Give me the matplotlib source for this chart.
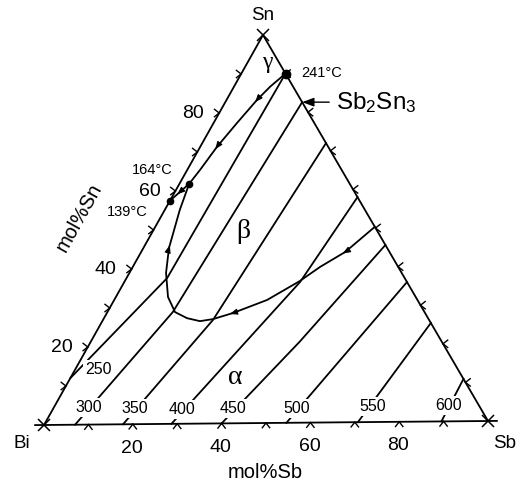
import numpy as np
import matplotlib.pyplot as plt

plt.rcParams['font.family'] = ['Liberation Sans', 'DejaVu Sans']
plt.rcParams['mathtext.fontset'] = 'custom'
plt.rcParams['mathtext.rm'] = 'Liberation Sans'
plt.rcParams['mathtext.default'] = 'regular'

# compositions in mol% (Sb, Sn); Bi is the rest
tick_values = [10, 20, 30, 40, 50, 60, 70, 80, 90]
tick_labels = [20, 40, 60, 80]

# liquidus isotherms, from the Bi-side edge to the Sn-Sb edge
iso_temps = [250, 300, 350, 400, 450, 500, 550, 600]
iso_sb = [[0.0, 9.2, 10.0], [7.0, 14.8, 17.4], [17.8, 24.9, 28.0],
          [28.7, 39.8, 42.0], [40.0, 47.3, 54.4], [54.6, 64.0],
          [70.7, 74.6], [89.5, 89.1]]
iso_sn = [[12.0, 37.6, 90.0], [0.0, 28.8, 82.6], [0.0, 26.7, 72.0],
          [0.0, 36.3, 58.0], [0.0, 20.9, 45.6], [0.0, 36.0],
          [0.0, 25.4], [0.0, 10.9]]

# univariant lines
upper_sb = [10.0, 8.2, 6.9, 5.3, 3.8, 2.9, 2.2]
upper_sn = [90.0, 86.7, 83.3, 77.4, 71.3, 65.4, 61.8]
lower_sb = [49.7, 46.2, 42.4, 39.6, 34.6, 28.5, 24.8, 22.1, 18.8, 15.3,
            11.8, 8.3, 5.8, 3.4, 2.2]
lower_sn = [50.3, 43.9, 40.1, 36.5, 31.7, 28.4, 26.9, 26.4, 27.2, 28.8,
            32.7, 38.9, 45.3, 55.1, 61.8]
eut_sb = [2.2, 0.0]
eut_sn = [61.8, 57.5]

# invariant points
pt_names = ['241°C', '164°C', '139°C']
pt_sb = [10.0, 2.2, 0.0]
pt_sn = [90.0, 61.8, 57.5]
sb2sn3 = (17.4, 82.6)

phase_names = ['γ', 'β', 'α']
phase_sb = [4.5, 20.5, 37.3]
phase_sn = [92.8, 49.3, 11.7]

# triangle corners in the canvas (pixels)
BI = np.array([44.0, 425.0])
SB = np.array([488.0, 421.0])
SN = np.array([263.0, 35.0])


def tern(sb, sn):
    sb = np.asarray(sb, dtype=float) / 100
    sn = np.asarray(sn, dtype=float) / 100
    x = BI[0] + sb * (SB[0] - BI[0]) + sn * (SN[0] - BI[0])
    y = BI[1] + sb * (SB[1] - BI[1]) + sn * (SN[1] - BI[1])
    return x, y


fig = plt.figure(figsize=(5.29, 4.84), dpi=100)
ax = fig.add_axes([0, 0, 1, 1])
ax.set_xlim(0, 529)
ax.set_ylim(484, 0)
ax.axis('off')

lw = 1.3

# triangle, bottom edge runs a little past the corners
ex, ey = tern([-2, 102], [0, 0])
ax.plot(ex, ey, color='k', lw=lw)
ex, ey = tern([100, 0, 0], [0, 100, 0])
ax.plot(ex, ey, color='k', lw=lw)
cx, cy = tern([0, 100, 0], [0, 0, 100])
ax.plot(cx, cy, 'x', color='k', ms=8, mew=1.1)


def arrowhead_tick(x, y, ang, size=6, spread=38):
    # small open arrowhead pointing into the triangle (ang in degrees, canvas coords)
    for s in (-spread, spread):
        a = np.radians(ang + 180 + s)
        ax.plot([x, x + size * np.cos(a)], [y, y + size * np.sin(a)],
                color='k', lw=1.0)


for t in tick_values:
    x, y = tern(t, 0)
    arrowhead_tick(x, y, -90)
    x, y = tern(0, t)
    arrowhead_tick(x, y, 0)
    x, y = tern(t, 100 - t)
    arrowhead_tick(x, y, 180)

for t in tick_labels:
    ax.annotate(str(t), tern(t, 0), xytext=(-1, -24), textcoords='offset pixels',
                ha='center', va='center', fontsize=14)
    ax.annotate(str(t), tern(0, t), xytext=(-26, 0), textcoords='offset pixels',
                ha='center', va='center', fontsize=14)

ax.annotate('Bi', tern(0, 0), xytext=(-22, -18), textcoords='offset pixels',
            ha='center', va='center', fontsize=13.5)
ax.annotate('Sb', tern(100, 0), xytext=(17, -22), textcoords='offset pixels',
            ha='center', va='center', fontsize=13.5)
ax.annotate('Sn', tern(0, 100), xytext=(0, 20), textcoords='offset pixels',
            ha='center', va='center', fontsize=13.5)
ax.annotate('mol%Sb', tern(50, 0), xytext=(-1, -50), textcoords='offset pixels',
            ha='center', va='center', fontsize=14.5)
ax.annotate('mol%Sn', tern(0, 50), xytext=(-74, 12), textcoords='offset pixels',
            ha='center', va='center', fontsize=14.5, rotation=61)

# isotherms
label_off = [(28, 9), (14, 17), (12, 16), (11, 14), (11, 15), (10, 14),
             (15, 16), (7, 16)]
for temp, sb, sn, off in zip(iso_temps, iso_sb, iso_sn, label_off):
    x, y = tern(sb, sn)
    ax.plot(x, y, color='k', lw=lw)
    ax.annotate(str(temp), (x[0], y[0]), xytext=off, textcoords='offset pixels',
                ha='center', va='center', fontsize=11.5,
                bbox=dict(fc='white', ec='none', pad=1.5))

# univariant lines with direction arrows
ux, uy = tern(upper_sb, upper_sn)
lx, ly = tern(lower_sb, lower_sn)
ex2, ey2 = tern(eut_sb, eut_sn)
ax.plot(ux, uy, color='k', lw=lw)
ax.plot(lx, ly, color='k', lw=lw)
ax.plot(ex2, ey2, color='k', lw=lw)


def flow_arrow(xs, ys, i):
    p = np.array([xs[i], ys[i]])
    d = np.array([xs[i + 1], ys[i + 1]]) - p
    d = d / np.hypot(*d)
    ax.annotate('', xy=p + 3 * d, xytext=p - 3 * d,
                arrowprops=dict(arrowstyle='-|>,head_length=0.45,head_width=0.18',
                                color='k', lw=0.8, shrinkA=0, shrinkB=0))


for i in (2, 4):
    flow_arrow(ux, uy, i)
for i in (1, 5, 12):
    flow_arrow(lx, ly, i)
mx, my = tern(np.mean(eut_sb), np.mean(eut_sn))
flow_arrow([mx, ex2[1]], [my, ey2[1]], 0)

px, py = tern(pt_sb, pt_sn)
ax.plot(px[:1], py[:1], 'o', color='k', ms=6)
ax.plot(px[1:], py[1:], 'o', color='k', ms=4.5)
ax.annotate(pt_names[0], (px[0], py[0]), xytext=(16, 1), textcoords='offset pixels',
            ha='left', va='center', fontsize=10.5)
ax.annotate(pt_names[1], (px[1], py[1]), xytext=(-16, 14), textcoords='offset pixels',
            ha='right', va='center', fontsize=10.5)
ax.annotate(pt_names[2], (px[2], py[2]), xytext=(-22, -11), textcoords='offset pixels',
            ha='right', va='center', fontsize=10.5)

ax.annotate('Sb$_2$Sn$_3$', tern(*sb2sn3), xytext=(34, 0), textcoords='offset pixels',
            ha='left', va='center', fontsize=17.5,
            arrowprops=dict(arrowstyle='-|>,head_length=0.4,head_width=0.15',
                            color='k', lw=1.0, shrinkA=3, shrinkB=0))

phase_size = [17, 20, 20]
for name, sb, sn, fs in zip(phase_names, phase_sb, phase_sn, phase_size):
    ax.annotate(name, tern(sb, sn), ha='center', va='center', fontsize=fs,
                family=['Liberation Serif', 'DejaVu Serif'])

fig.savefig('out.png', dpi=100)
